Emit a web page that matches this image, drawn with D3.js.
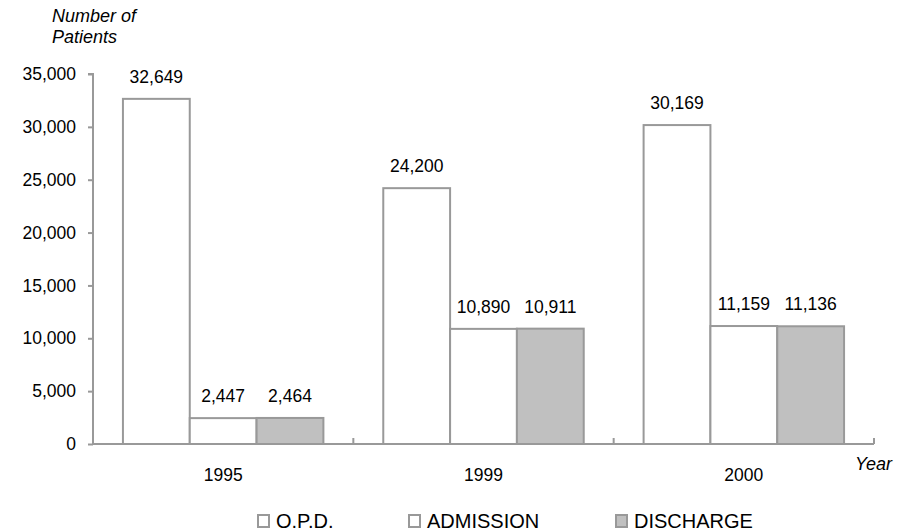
<!DOCTYPE html>
<html><head><meta charset="utf-8">
<script src="https://cdn.jsdelivr.net/npm/d3@7"></script>
<style>
body{margin:0;background:#fff;}
text{font-family:"Liberation Sans",Arial,sans-serif;fill:#000;}
</style></head>
<body><svg id="c" width="910" height="531"></svg>
<script>
const years = ["1995","1999","2000"];
const seriesNames = ["O.P.D.","ADMISSION","DISCHARGE"];
const opd = [32649, 24200, 30169];
const admission = [2447, 10890, 11159];
const discharge = [2464, 10911, 11136];
const yTicks = [0,5000,10000,15000,20000,25000,30000,35000];
const fills = ["#ffffff","#ffffff","#c0c0c0"];

const seriesVals = [opd, admission, discharge];
const svg = d3.select("#c");
const L=93, R=874, T=74, B=444;
const FS = 17.5;
const x0 = d3.scaleBand().domain(years).range([L,R]).padding(0);
const bw = x0.bandwidth();
const x1 = d3.scaleBand().domain(seriesNames).range([bw*0.115, bw*0.885]).padding(0);
const y = d3.scaleLinear().domain([0,35000]).range([B,T]);
const fmt = d3.format(",");
const grey = "#999999";

// bars
years.forEach((yr,i)=>{
  const g = svg.append("g").attr("transform",`translate(${x0(yr)},0)`);
  seriesNames.forEach((s,j)=>{
    const v = seriesVals[j][i];
    g.append("rect").attr("x",x1(s)).attr("y",y(v)).attr("width",x1.bandwidth()).attr("height",B-y(v))
      .attr("fill",fills[j]).attr("stroke",grey).attr("stroke-width",2);
    g.append("text").attr("x",x1(s)+x1.bandwidth()/2).attr("y",y(v)-16).attr("text-anchor","middle")
      .attr("font-size",FS).text(fmt(v));
  });
});

// y axis
const ya = svg.append("g").attr("transform",`translate(${L},0)`)
  .call(d3.axisLeft(y).tickValues(yTicks).tickFormat(fmt).tickSize(5).tickPadding(12));
ya.select(".domain").attr("stroke",grey).attr("stroke-width",2).attr("d",`M-5,${T}H0V${B}`);
ya.selectAll(".tick line").attr("stroke",grey).attr("stroke-width",2);
ya.selectAll(".tick text").attr("font-size",FS).attr("font-family","Liberation Sans, Arial, sans-serif").attr("fill","#000");

// x axis
const xa = svg.append("g").attr("transform",`translate(0,${B})`)
  .call(d3.axisBottom(x0).tickSize(0).tickPadding(25));
xa.select(".domain").attr("stroke",grey).attr("stroke-width",2).attr("d",`M${L},0H${R}`);
xa.selectAll(".tick text").attr("font-size",FS).attr("font-family","Liberation Sans, Arial, sans-serif").attr("fill","#000");
// category separators
years.forEach(yr=>{
  const xe = x0(yr)+bw;
  svg.append("line").attr("x1",xe).attr("x2",xe).attr("y1",B-6).attr("y2",B).attr("stroke",grey).attr("stroke-width",2);
});

// axis titles
svg.append("text").attr("x",52).attr("y",22).attr("font-size",18).attr("font-style","italic").text("Number of");
svg.append("text").attr("x",52).attr("y",43).attr("font-size",18).attr("font-style","italic").text("Patients");
svg.append("text").attr("x",855).attr("y",470).attr("font-size",18).attr("font-style","italic").text("Year");

// legend
const legX = [257, 408, 615];
seriesNames.forEach((s,j)=>{
  svg.append("rect").attr("x",legX[j]+1).attr("y",515).attr("width",11).attr("height",12)
    .attr("fill",fills[j]).attr("stroke",grey).attr("stroke-width",2);
  svg.append("text").attr("x",legX[j]+19).attr("y",528).attr("font-size",20).text(s);
});
</script></body></html>
